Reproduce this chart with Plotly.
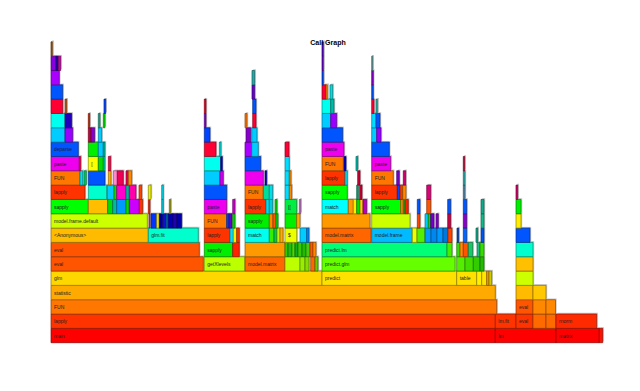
import plotly.graph_objects as go

# Flame graph frames per stack depth: (start, end, function name); time axis in sample units
level_01 = [(0, 444.3, "main"), (444.3, 505, "lm"), (505, 548.3, "matrix"), (548.3, 551.7, "")]
level_02 = [(0, 444.3, "lapply"), (444.3, 465, "lm.fit"), (465, 482, "eval"), (482, 495, ""), (495, 504.5, ""), (505, 545.7, "rnorm")]
level_03 = [(0, 445.7, "FUN"), (465, 482, "eval"), (482, 495, ""), (495, 504.5, "")]
level_04 = [(0, 444.3, "statistic"), (465, 482, ""), (482, 495, "")]
level_05 = [(0, 271, "glm"), (271, 405.7, "predict"), (405.7, 425.7, "table"), (425.7, 430.7, ""), (430.7, 435.7, ""),
            (435.7, 438, ""), (438, 440.7, ""), (465, 482, "")]
level_06 = [(0, 152.3, "eval"), (153.3, 194, "getXlevels"), (194, 234, "model.matrix"), (234, 249, ""), (249, 254, ""),
            (254, 258, ""), (259.7, 264, ""), (264, 267, ""), (271, 404, "predict.glm"), (405.7, 414, ""), (414, 422.3, ""),
            (422.3, 429, ""), (429, 433, ""), (465, 482, "")]
level_07 = [(0, 148.3, "eval"), (153.3, 181.7, "sapply"), (181.7, 188.3, ""), (194, 234, ""), (234, 237, ""), (237, 241, ""),
            (241, 244, ""), (244, 247, ""), (247, 251, ""), (251, 255, ""), (255, 259, ""), (259, 262, ""), (262, 265, ""),
            (271, 396, "predict.lm"), (396, 401, ""), (405.7, 409, ""), (409, 412.3, ""), (412.3, 417.3, ""),
            (417.3, 421.7, ""), (426, 428.7, ""), (429, 433, ""), (465, 482, "")]
level_08 = [(0, 97.3, "<Anonymous>"), (97.3, 147.3, "glm.fit"), (153.3, 179, "lapply"), (179, 182.3, ""), (182.3, 185.7, ""),
            (185.7, 188.3, ""), (194, 218.3, "match"), (218.3, 223, ""), (223, 226, ""), (226, 229, ""), (229, 232, ""),
            (234, 245.7, "$"), (249, 255.7, ""), (255.7, 258, ""), (271, 320, "model.matrix"), (320.7, 361.3, "model.frame"),
            (361.3, 366, ""), (366, 374, ""), (374, 380, ""), (380, 386, ""), (386, 392, ""), (392, 397, ""), (397, 401, ""),
            (406, 407.7, ""), (412.3, 415.7, ""), (425, 426.7, ""), (430, 433, ""), (465, 479, "")]
level_09 = [(0, 96.3, "model.frame.default"), (98, 99, ""), (100, 105.7, ""), (105.7, 108.3, ""), (108.3, 111.7, ""),
            (111.7, 115, ""), (115, 117.3, ""), (117.3, 122, ""), (122, 126, ""), (126, 130.7, ""), (153.3, 175.7, "FUN"),
            (175.7, 178, ""), (178, 181, ""), (181.7, 184, ""), (194, 218.3, "sapply"), (218.3, 222, ""), (222, 225, ""),
            (225, 227, ""), (234, 245.7, ""), (245.7, 249, ""), (271, 319, ""), (320.7, 359, ""), (366.3, 369, ""),
            (374, 377.3, ""), (377.3, 379.7, ""), (379.7, 383, ""), (385, 387.3, ""), (396.7, 399.7, ""), (412.3, 415.7, ""),
            (430, 433, ""), (465, 470, "")]
level_10 = [(0, 37.3, "sapply"), (37.3, 56.7, ""), (56.7, 61.7, ""), (61.7, 65.7, ""), (65.7, 75, ""), (75, 78.3, ""),
            (78.3, 88.3, ""), (88.3, 91.7, ""), (97.3, 99, ""), (110.7, 112.3, ""), (118.3, 119.7, ""), (153.3, 175.7, "paste"),
            (181.7, 184, ""), (194, 215, "lapply"), (215, 218.3, ""), (218.3, 221.7, ""), (224, 226, ""), (234, 245.7, "[["),
            (248.3, 249.7, ""), (271, 297.3, "match"), (297.3, 302.3, ""), (302.3, 305.7, ""), (305.7, 309, ""), (309, 312, ""),
            (312, 315.7, ""), (320.7, 349.7, "sapply"), (349.7, 352.3, ""), (352.3, 354, ""), (354, 357.3, ""), (366.3, 369, ""),
            (375.7, 379.7, ""), (396.7, 399.7, ""), (412.3, 415.7, ""), (430, 433, ""), (465, 470, "")]
level_11 = [(0, 34, "lapply"), (37.3, 55.7, ""), (56.3, 63, ""), (63, 65.7, ""), (65.7, 75, ""), (75, 78.3, ""), (78.3, 85, ""),
            (88, 90.7, ""), (97.3, 100, ""), (110.7, 112.3, ""), (153.3, 175.7, ""), (194, 212.3, "FUN"), (212.3, 218.3, ""),
            (218.3, 221.7, ""), (234, 238.3, ""), (238.3, 240.7, ""), (271, 296.3, "sapply"), (305.7, 307.3, ""),
            (308.7, 311, ""), (320.7, 346.3, "lapply"), (346.3, 349, ""), (349, 351.7, ""), (351.7, 355, ""),
            (375.7, 379.7, ""), (412.3, 414, ""), (465, 466.7, "")]
level_12 = [(0, 29, "FUN"), (29, 31.7, ""), (33, 35.3, ""), (37.3, 54, ""), (57.3, 60, ""), (62.3, 66.3, ""), (66.3, 72.3, ""),
            (75, 77.3, ""), (77.3, 80.7, ""), (153.3, 169, ""), (169, 172.3, ""), (194, 212.3, "paste"), (214, 215.7, ""),
            (234, 238.3, ""), (238.3, 240, ""), (271, 294, "lapply"), (294, 296.3, ""), (306.7, 309, ""), (320.7, 342.3, "FUN"),
            (345.7, 348.3, ""), (352.3, 354.7, ""), (412.3, 414, "")]
level_13 = [(0, 28.3, "paste"), (28.3, 29.7, ""), (37.3, 47.3, "["), (47.3, 52.3, ""), (52.3, 54, ""), (57.3, 59.7, ""),
            (153.3, 169.7, ""), (169.7, 171.3, ""), (194, 209.7, ""), (234, 238.3, ""), (271, 292.3, "FUN"), (293, 295, ""),
            (305, 306.7, ""), (320.7, 339.7, "paste"), (412.3, 413.7, "")]
level_14 = [(0, 27.3, "deparse"), (37.3, 47.3, ""), (47.3, 52.3, ""), (52.3, 54, ""), (153.3, 165, ""), (168.3, 170, ""),
            (194, 200.7, ""), (200.7, 207.3, ""), (234, 238, ""), (271, 293, "paste"), (320.7, 338.3, "")]
level_15 = [(0, 14, ""), (14, 21.7, ""), (37.3, 40, ""), (40, 43.7, ""), (47.3, 50.7, ""), (153.3, 159, ""), (195, 199.7, ""),
            (200.7, 206, ""), (271, 291.7, ""), (320.7, 325.7, ""), (325.7, 330, "")]
level_16 = [(0, 14, ""), (14, 20.7, ""), (37.3, 38.7, ""), (47.3, 49, ""), (52.3, 54, ""), (153.3, 155, ""), (194, 196, ""),
            (201.7, 205, ""), (271, 279.7, ""), (279.7, 285.7, ""), (320.7, 325, ""), (325, 329, "")]
level_17 = [(0, 11.7, ""), (14, 15.7, ""), (53, 54.7, ""), (153.3, 155, ""), (201.7, 205, ""), (271, 279.7, ""),
            (279.7, 283, ""), (320.7, 323, ""), (325, 326.3, "")]
level_18 = [(0, 11.7, ""), (201, 203.7, ""), (271, 275, ""), (275, 276.3, ""), (279, 281.7, ""), (320.7, 322.3, "")]
level_19 = [(0, 8.3, ""), (201, 203.7, ""), (271, 272.3, ""), (320.7, 322.3, "")]
level_20 = [(0, 5, ""), (5, 7.3, ""), (7.3, 9.7, ""), (271, 272.3, ""), (320.7, 321.7, "")]
level_21 = [(0, 1.3, ""), (271, 272.3, "")]

# Fill colour of each frame (same order as the level lists)
fill_01 = ["#FF0000", "#FF0000", "#FF0000", "#FF1100"]
fill_02 = ["#FF3300", "#FF3300", "#FF3300", "#FF6A00", "#FF6A00", "#FF2A00"]
fill_03 = ["#FF7700", "#FF5500", "#FF8800", "#FF8800"]
fill_04 = ["#FFAA00", "#FFBB00", "#FFC800"]
fill_05 = ["#FFD700", "#FFE100", "#FFE100", "#FFEE00", "#FFE500", "#FF9900", "#CCCC00", "#CCFF00"]
fill_06 = ["#FF5500", "#BBFF00", "#FF6600", "#BBFF00", "#99EE00", "#88DD00", "#FF6600", "#66CC00", "#66FF00",
           "#55EE00", "#44DD00", "#33CC00", "#22BB00", "#FFC000"]
fill_07 = ["#FF5500", "#00EE00", "#FF2200", "#FF9900", "#33CC00", "#22BB11", "#44DD00", "#11AA22", "#33CC00",
           "#22BB00", "#44CC11", "#FF5500", "#FF8800", "#00FF77", "#44EE00", "#33DD00", "#FF8800", "#FF5500",
           "#11CC66", "#22BB88", "#33DD00", "#00FFCC"]
fill_08 = ["#FFBB00", "#00FFCC", "#FF3300", "#00DDFF", "#FFEE00", "#FF3300", "#00FFEE", "#33EE00", "#00CC44",
           "#CCEE00", "#FFAA00", "#EEFF00", "#00CCFF", "#0088FF", "#FF6600", "#00BBFF", "#EEFF00", "#55EE00",
           "#0099FF", "#0088EE", "#0099FF", "#0077DD", "#FF4400", "#0044CC", "#0066FF", "#11AA88", "#0055EE", "#0055FF"]
fill_09 = ["#CCFF00", "#FF3300", "#0033FF", "#FFEE00", "#000099", "#1111CC", "#0066AA", "#0000BB", "#2200AA",
           "#0000AA", "#FF7700", "#0044FF", "#6600CC", "#00DD00", "#00EE00", "#FF8800", "#FF5500", "#00DD00",
           "#00EE00", "#FFAA00", "#FF9900", "#CCFF00", "#FF4400", "#00CCFF", "#00DD00", "#7700CC", "#8800CC",
           "#CC0044", "#8800CC", "#11BB88", "#FFEE00"]
fill_10 = ["#00FF00", "#FFBF00", "#00DD00", "#00BB99", "#0099FF", "#00DD00", "#CC00FF", "#FF3300", "#FF2200",
           "#00CCDD", "#AAAA00", "#EE00EE", "#CC00CC", "#FF3300", "#00DDEE", "#00CCDD", "#00DD00", "#00EE44",
           "#CC77CC", "#00FFFF", "#FF9900", "#FFEE00", "#00DD00", "#FFCC00", "#BB00BB", "#00FF00", "#FF8800",
           "#00DD00", "#FF2200", "#0055FF", "#FF5500", "#0055FF", "#0055FF", "#11AA88", "#00EE00"]
fill_11 = ["#FF3300", "#00FFCC", "#00CCFF", "#00DD00", "#FF00CC", "#00BB99", "#FF00AA", "#FF4400", "#EEEE00",
           "#00DDEE", "#0055FF", "#FF7700", "#00DD99", "#00DDEE", "#00DDFF", "#FF8800", "#00FF00", "#00AA77",
           "#CC0033", "#FF3300", "#0044FF", "#FF3300", "#FF8800", "#DD0077", "#5588AA", "#CC0066"]
fill_12 = ["#FF7700", "#00DDEE", "#00CC66", "#0055FF", "#FFAA00", "#FF88CC", "#EE0055", "#EE0055", "#FF8800",
           "#00CCFF", "#CC00EE", "#EE00EE", "#0000CC", "#00DDFF", "#FF8800", "#FF3300", "#00DDEE", "#CC0033",
           "#FF7700", "#7700CC", "#CC0066", "#33AAAA"]
fill_13 = ["#EE00EE", "#FF0033", "#FFFF00", "#00DD00", "#00CCAA", "#FF0044", "#00FFEE", "#0000CC", "#0055FF",
           "#00DDFF", "#FF7700", "#0000CC", "#00BBAA", "#EE00EE", "#CC0033"]
fill_14 = ["#0055FF", "#00EE00", "#00CCFF", "#00BB99", "#FF0033", "#00DDDD", "#AA00FF", "#00CCFF", "#FF0033",
           "#EE00EE", "#0055FF"]
fill_15 = ["#00CCFF", "#9900FF", "#CC0033", "#8800CC", "#00CCFF", "#0044FF", "#8800CC", "#00CCFF", "#0055FF",
           "#00CCFF", "#9900FF"]
fill_16 = ["#00FFEE", "#2200BB", "#CC2200", "#22AA88", "#00DD00", "#8800CC", "#FF7700", "#FF0033", "#00CCFF",
           "#9900FF", "#00DDFF", "#0055FF"]
fill_17 = ["#FF0033", "#CC5500", "#0044FF", "#EE0022", "#0055FF", "#00FFEE", "#00BBAA", "#FF0033", "#22BBAA"]
fill_18 = ["#0055FF", "#6600CC", "#FF0033", "#FF8800", "#00DDDD", "#0055FF"]
fill_19 = ["#AA00FF", "#22AAAA", "#0044FF", "#8800CC"]
fill_20 = ["#8800DD", "#2200AA", "#CC00AA", "#6600CC", "#66AAAA"]
fill_21 = ["#AA5500", "#5500CC"]

levels = [level_01, level_02, level_03, level_04, level_05, level_06, level_07, level_08, level_09, level_10,
          level_11, level_12, level_13, level_14, level_15, level_16, level_17, level_18, level_19, level_20, level_21]
fills = [fill_01, fill_02, fill_03, fill_04, fill_05, fill_06, fill_07, fill_08, fill_09, fill_10,
         fill_11, fill_12, fill_13, fill_14, fill_15, fill_16, fill_17, fill_18, fill_19, fill_20, fill_21]


def darker(hexc, f=0.55):
    h = hexc.lstrip("#")
    r, g, b = (int(h[i:i + 2], 16) for i in (0, 2, 4))
    return "rgb(%d,%d,%d)" % (int(r * f), int(g * f), int(b * f))


ys, bases, widths, names, cols, edges = [], [], [], [], [], []
for depth, (frames, fl) in enumerate(zip(levels, fills), start=1):
    for (s, e, n), c in zip(frames, fl):
        ys.append(depth - 0.5)
        bases.append(s)
        widths.append(e - s)
        names.append(n)
        cols.append(c)
        edges.append(darker(c))

fig = go.Figure()
# drop shadow
fig.add_trace(go.Bar(orientation="h", y=[v + 0.085 for v in ys], x=widths, base=[b + 1.2 for b in bases],
                     width=1, marker=dict(color="#c6c6c6", line=dict(width=0)), hoverinfo="skip"))
# frames
fig.add_trace(go.Bar(orientation="h", y=ys, x=widths, base=bases, width=1,
                     marker=dict(color=cols, line=dict(color=edges, width=0.7)),
                     text=names, textposition="inside", insidetextanchor="start", textangle=0,
                     textfont=dict(size=5, color="#222222", family="Liberation Sans, Arial"),
                     hoverinfo="skip"))

fig.update_layout(
    barmode="overlay", width=640, height=391, margin=dict(l=0, r=0, t=0, b=0),
    paper_bgcolor="white", plot_bgcolor="white", showlegend=False,
    xaxis=dict(range=[-43, 597], visible=False),
    yaxis=dict(range=[-3.93, 23.36], visible=False),
    uniformtext=dict(minsize=5, mode="hide"),
    title=dict(text="<b>Call Graph</b>", x=0.5, y=1 - 35 / 391, xref="paper", yref="container",
               xanchor="center", yanchor="middle",
               font=dict(size=7, family="Liberation Sans, Arial", color="black")),
)

fig.write_html("out.html")
